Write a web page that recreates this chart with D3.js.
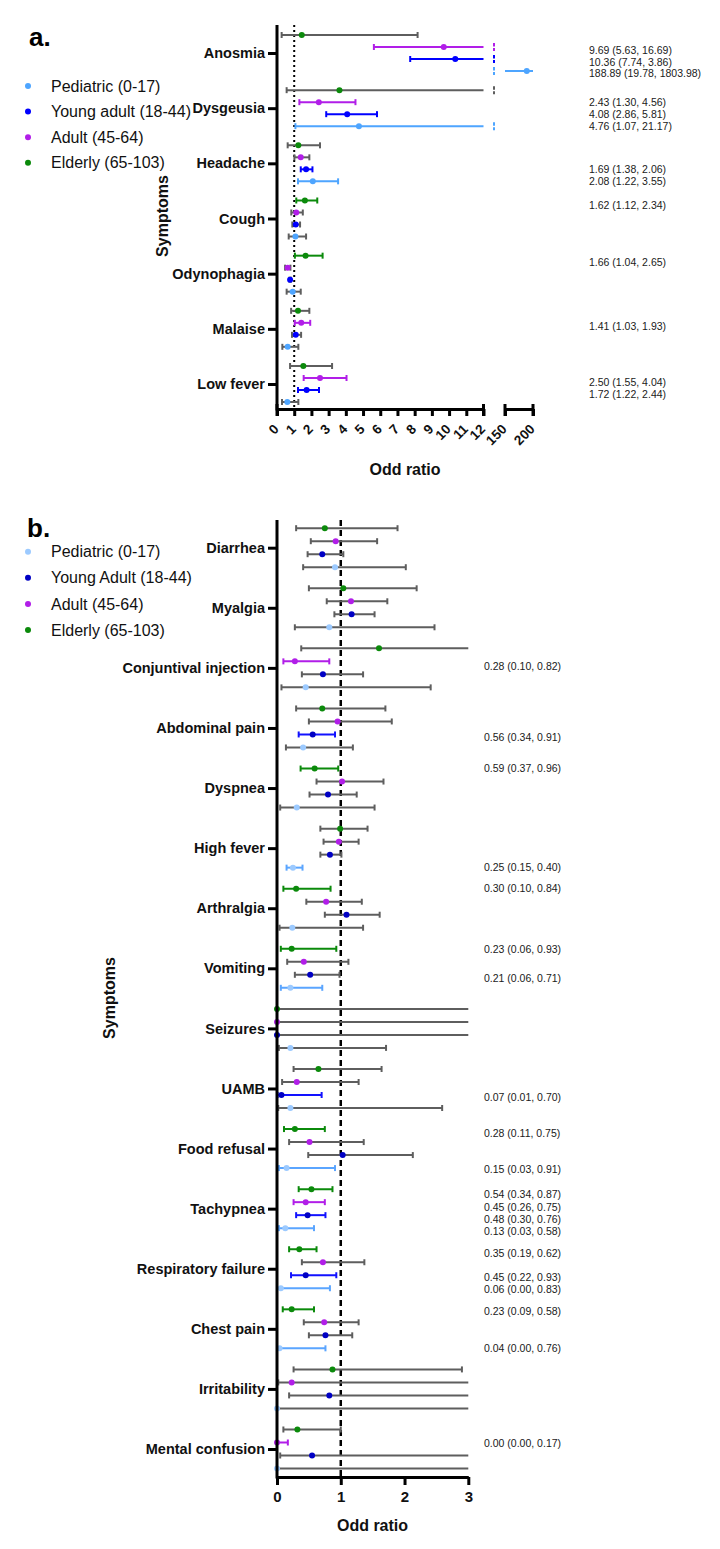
<!DOCTYPE html>
<meta charset="utf-8">
<script src="https://d3js.org/d3.v7.min.js"></script>
<style>
  body { margin: 0; background: #fff; }
  text { font-family: "Liberation Sans", Arial, sans-serif; }
</style>
<div id="chart"></div>
<script>
// order of the four rows inside each symptom (top -> bottom)
const groupKeys = ["elderly", "adult", "young", "pediatric"];
const gray = "#5e5e5e";

// ---------- panel a ----------
const symptomsA = ["Anosmia", "Dysgeusia", "Headache", "Cough", "Odynophagia", "Malaise", "Low fever"];
// values per symptom: [elderly, adult, young adult, pediatric]
const oddsA = [[1.44, 9.69, 10.36, 188.89], [3.63, 2.43, 4.08, 4.76], [1.24, 1.38, 1.69, 2.08], [1.62, 1.12, 1.09, 1.07],
               [1.66, 0.62, 0.76, 0.91], [1.22, 1.41, 1.09, 0.62], [1.53, 2.50, 1.72, 0.60]];
const lowA  = [[0.27, 5.63, 7.74, 19.78], [0.56, 1.30, 2.86, 1.07], [0.62, 1.01, 1.38, 1.22], [1.12, 0.83, 0.89, 0.68],
               [1.04, 0.47, 0.72, 0.56], [0.82, 1.03, 0.87, 0.31], [0.76, 1.55, 1.22, 0.29]];
const highA = [[8.17, 16.69, 13.86, 1803.98], [20.5, 4.56, 5.81, 21.17], [2.50, 1.88, 2.06, 3.55], [2.34, 1.50, 1.34, 1.69],
               [2.65, 0.78, 0.81, 1.38], [1.88, 1.93, 1.40, 1.24], [3.20, 4.04, 2.44, 1.24]];
const sigA  = [[0, 1, 1, 1], [0, 1, 1, 1], [0, 0, 1, 1], [1, 0, 0, 0], [1, 0, 0, 0], [0, 1, 0, 0], [0, 1, 1, 0]];
const ticksA1 = [0, 1, 2, 3, 4, 5, 6, 7, 8, 9, 10, 11, 12];
const ticksA2 = [150, 200];
const legendA = ["Pediatric (0-17)", "Young adult (18-44)", "Adult (45-64)", "Elderly (65-103)"];
// [symptom, row, text, small vertical nudge]
const notesA = [
  ["Anosmia", "adult", "9.69 (5.63, 16.69)", 3], ["Anosmia", "young", "10.36 (7.74, 3.86)", 3],
  ["Anosmia", "pediatric", "188.89 (19.78, 1803.98)", 2],
  ["Dysgeusia", "adult", "2.43 (1.30, 4.56)", 0], ["Dysgeusia", "young", "4.08 (2.86, 5.81)", 0],
  ["Dysgeusia", "pediatric", "4.76 (1.07, 21.17)", 0],
  ["Headache", "young", "1.69 (1.38, 2.06)", 0], ["Headache", "pediatric", "2.08 (1.22, 3.55)", 0],
  ["Cough", "elderly", "1.62 (1.12, 2.34)", 5], ["Odynophagia", "elderly", "1.66 (1.04, 2.65)", 7],
  ["Malaise", "adult", "1.41 (1.03, 1.93)", 3],
  ["Low fever", "adult", "2.50 (1.55, 4.04)", 4], ["Low fever", "young", "1.72 (1.22, 2.44)", 4]
];

// ---------- panel b ----------
const symptomsB = ["Diarrhea", "Myalgia", "Conjuntival injection", "Abdominal pain", "Dyspnea", "High fever", "Arthralgia",
  "Vomiting", "Seizures", "UAMB", "Food refusal", "Tachypnea", "Respiratory failure", "Chest pain", "Irritability", "Mental confusion"];
const oddsB = [[0.75, 0.92, 0.71, 0.91], [1.04, 1.16, 1.17, 0.82], [1.60, 0.28, 0.72, 0.45], [0.71, 0.95, 0.56, 0.41],
  [0.59, 1.02, 0.80, 0.31], [0.99, 0.97, 0.83, 0.25], [0.30, 0.77, 1.09, 0.24], [0.23, 0.42, 0.52, 0.21],
  [0.00, 0.00, 0.00, 0.21], [0.65, 0.31, 0.07, 0.21], [0.28, 0.51, 1.03, 0.15], [0.54, 0.45, 0.48, 0.13],
  [0.35, 0.72, 0.45, 0.06], [0.23, 0.74, 0.76, 0.04], [0.87, 0.23, 0.82, 0.00], [0.32, 0.00, 0.55, 0.00]];
const lowB = [[0.30, 0.53, 0.48, 0.41], [0.50, 0.78, 0.90, 0.28], [0.38, 0.10, 0.39, 0.07], [0.30, 0.50, 0.34, 0.14],
  [0.37, 0.62, 0.51, 0.05], [0.68, 0.73, 0.68, 0.15], [0.10, 0.46, 0.75, 0.04], [0.06, 0.16, 0.28, 0.06],
  [0.00, 0.00, 0.00, 0.03], [0.26, 0.08, 0.01, 0.02], [0.11, 0.19, 0.49, 0.03], [0.34, 0.26, 0.30, 0.03],
  [0.19, 0.39, 0.22, 0.00], [0.09, 0.42, 0.50, 0.00], [0.26, 0.02, 0.19, 0.00], [0.10, 0.00, 0.05, 0.00]];
const highB = [[1.89, 1.57, 1.04, 2.02], [2.19, 1.73, 1.53, 2.47], [3.40, 0.82, 1.35, 2.41], [1.70, 1.80, 0.91, 1.19],
  [0.96, 1.67, 1.25, 1.53], [1.42, 1.28, 1.01, 0.40], [0.84, 1.33, 1.61, 1.35], [0.93, 1.12, 0.98, 0.71],
  [9.00, 9.00, 9.00, 1.71], [1.64, 1.28, 0.70, 2.59], [0.75, 1.36, 2.13, 0.91], [0.87, 0.75, 0.76, 0.58],
  [0.62, 1.37, 0.93, 0.83], [0.58, 1.28, 1.18, 0.76], [2.90, 9.00, 9.00, 9.00], [1.00, 0.17, 9.00, 9.00]];
const sigB = [[0, 0, 0, 0], [0, 0, 0, 0], [0, 1, 0, 0], [0, 0, 1, 0], [1, 0, 0, 0], [0, 0, 0, 1], [1, 0, 0, 0], [1, 0, 0, 1],
  [0, 0, 0, 0], [0, 0, 1, 0], [1, 0, 0, 1], [1, 1, 1, 1], [1, 0, 1, 1], [1, 0, 0, 1], [0, 0, 0, 0], [0, 1, 0, 0]];
const ticksB = [0, 1, 2, 3];
const legendB = ["Pediatric (0-17)", "Young Adult (18-44)", "Adult (45-64)", "Elderly (65-103)"];
const notesB = [
  ["Conjuntival injection", "adult", "0.28 (0.10, 0.82)", 5], ["Abdominal pain", "young", "0.56 (0.34, 0.91)", 3],
  ["Dyspnea", "elderly", "0.59 (0.37, 0.96)", 0], ["High fever", "pediatric", "0.25 (0.15, 0.40)", 0],
  ["Arthralgia", "elderly", "0.30 (0.10, 0.84)", 0], ["Vomiting", "elderly", "0.23 (0.06, 0.93)", 1],
  ["Vomiting", "pediatric", "0.21 (0.06, 0.71)", -9], ["UAMB", "young", "0.07 (0.01, 0.70)", 2],
  ["Food refusal", "elderly", "0.28 (0.11, 0.75)", 4], ["Food refusal", "pediatric", "0.15 (0.03, 0.91)", 1.5],
  ["Tachypnea", "elderly", "0.54 (0.34, 0.87)", 5.5], ["Tachypnea", "adult", "0.45 (0.26, 0.75)", 5],
  ["Tachypnea", "young", "0.48 (0.30, 0.76)", 4], ["Tachypnea", "pediatric", "0.13 (0.03, 0.58)", 3],
  ["Respiratory failure", "elderly", "0.35 (0.19, 0.62)", 4.5], ["Respiratory failure", "young", "0.45 (0.22, 0.93)", 2],
  ["Respiratory failure", "pediatric", "0.06 (0.00, 0.83)", 1],
  ["Chest pain", "elderly", "0.23 (0.09, 0.58)", 1.5], ["Chest pain", "pediatric", "0.04 (0.00, 0.76)", 0],
  ["Mental confusion", "adult", "0.00 (0.00, 0.17)", 1]
];

const colA = {elderly: "#0b8a0b", adult: "#b11ee8", young: "#0000ff", pediatric: "#4ea5ff"};
const dotB = {elderly: "#0b8a0b", adult: "#b11ee8", young: "#0000c4", pediatric: "#9ccaff"};
const barB = {elderly: "#0b8a0b", adult: "#b11ee8", young: "#1212ff", pediatric: "#5aa5ff"};
const legendOrder = ["pediatric", "young", "adult", "elderly"];

const svg = d3.select("#chart").append("svg").attr("width", 720).attr("height", 1549);
const axisX = 277, capH = 3, dotR = 3;

function hline(g, x1, x2, y, c) {
  g.append("line").attr("x1", x1).attr("x2", x2).attr("y1", y).attr("y2", y)
    .attr("stroke", c).attr("stroke-width", 2);
}
function cap(g, x, y, c) {
  g.append("line").attr("x1", x).attr("x2", x).attr("y1", y - capH).attr("y2", y + capH)
    .attr("stroke", c).attr("stroke-width", 2);
}

// ================= panel a =================
const gA = svg.append("g");
const yCatA = d3.scalePoint().domain(symptomsA).range([53, 384]);
const rowA = d3.scalePoint().domain(groupKeys).range([-18, 18]);
const xa1 = d3.scaleLinear().domain([0, 12]).range([axisX, 483.5]);
const xa2 = d3.scaleLinear().domain([150, 200]).range([505, 533]);
const gapX = 494, axisYA = 409;

gA.append("text").text("a.").attr("x", 29).attr("y", 46)
  .attr("font-size", 26).attr("font-weight", "bold");

legendA.forEach((t, i) => {
  const y = 86 + i * 25.6;
  gA.append("circle").attr("cx", 28).attr("cy", y).attr("r", 3).attr("fill", colA[legendOrder[i]]);
  gA.append("text").text(t).attr("x", 51).attr("y", y).attr("dy", "0.35em").attr("font-size", 16).attr("fill", "#111");
});

// reference line at OR = 1
gA.append("line").attr("x1", xa1(1)).attr("x2", xa1(1)).attr("y1", 25).attr("y2", axisYA)
  .attr("stroke", "#000").attr("stroke-width", 2).attr("stroke-dasharray", "2,3");

function gapMark(g, y, c) {
  g.append("line").attr("x1", gapX).attr("x2", gapX).attr("y1", y - 4).attr("y2", y + 4)
    .attr("stroke", c).attr("stroke-width", 2).attr("stroke-dasharray", "3.5,1.5");
}

symptomsA.forEach((s, i) => {
  groupKeys.forEach((k, j) => {
    const y = yCatA(s) + rowA(k);
    const c = sigA[i][j] ? colA[k] : gray;
    const lo = lowA[i][j], hi = highA[i][j], or = oddsA[i][j];
    if (lo <= 12) {
      hline(gA, xa1(lo), xa1(Math.min(hi, 12)), y, c);
      cap(gA, xa1(lo), y, c);
      if (hi <= 12) cap(gA, xa1(hi), y, c);
      else gapMark(gA, y, c);
    } else if (lo < 150) {
      gapMark(gA, y, c);
    }
    if (hi >= 150) {
      hline(gA, xa2(Math.max(lo, 150)), xa2(Math.min(hi, 200)), y, c);
      if (hi <= 200) cap(gA, xa2(hi), y, c);
    }
    const cx = or <= 12 ? xa1(or) : xa2(Math.min(or, 200));
    gA.append("circle").attr("cx", cx).attr("cy", y).attr("r", dotR).attr("fill", colA[k]);
  });
});

// y axis
gA.append("line").attr("x1", axisX).attr("x2", axisX).attr("y1", 25).attr("y2", axisYA + 1.5)
  .attr("stroke", "#000").attr("stroke-width", 3);
const yAxA = gA.append("g").attr("transform", `translate(${axisX},0)`)
  .call(d3.axisLeft(yCatA).tickSize(9).tickPadding(3));
yAxA.select(".domain").remove();
yAxA.selectAll(".tick line").attr("stroke-width", 3);
yAxA.selectAll(".tick text").attr("font-size", 14.5).attr("font-weight", "bold").attr("fill", "#111");

// x axis, two segments
[[xa1, ticksA1], [xa2, ticksA2]].forEach(([sc, tv]) => {
  const ax = gA.append("g").attr("transform", `translate(0,${axisYA})`)
    .call(d3.axisBottom(sc).tickValues(tv).tickSize(7).tickSizeOuter(0).tickFormat(d3.format("d")));
  ax.select(".domain").attr("stroke-width", 3);
  ax.selectAll(".tick line").attr("stroke-width", 3);
  ax.selectAll(".tick text").attr("font-size", 13.5).attr("font-weight", "bold").attr("fill", "#111")
    .attr("text-anchor", "end").attr("y", 0).attr("dy", 0)
    .attr("transform", "translate(2,21) rotate(-45)");
  sc.range().forEach(x => {
    ax.append("line").attr("x1", x).attr("x2", x).attr("y1", -5).attr("y2", 7)
      .attr("stroke", "#000").attr("stroke-width", 3);
  });
});

gA.append("text").text("Odd ratio").attr("x", 405).attr("y", 475).attr("text-anchor", "middle")
  .attr("font-size", 16).attr("font-weight", "bold").attr("fill", "#111");
gA.append("text").text("Symptoms").attr("transform", "translate(168,216) rotate(-90)").attr("text-anchor", "middle")
  .attr("font-size", 16).attr("font-weight", "bold").attr("fill", "#111");

notesA.forEach(([s, k, t, dy]) => {
  gA.append("text").text(t).attr("x", 589).attr("y", yCatA(s) + rowA(k) + dy).attr("dy", "0.35em")
    .attr("font-size", 10.5).attr("fill", "#1a1a1a");
});

// ================= panel b =================
const gB = svg.append("g");
const yCatB = d3.scalePoint().domain(symptomsB).range([547.7, 1449]);
const rowB = d3.scalePoint().domain(groupKeys).range([-19.5, 19.5]);
const xb = d3.scaleLinear().domain([0, 3]).range([axisX, 468.3]);
const axisYB = 1477;

gB.append("text").text("b.").attr("x", 27).attr("y", 537)
  .attr("font-size", 26).attr("font-weight", "bold");

legendB.forEach((t, i) => {
  const y = 551.7 + i * 26.1;
  gB.append("circle").attr("cx", 28).attr("cy", y).attr("r", 3).attr("fill", dotB[legendOrder[i]]);
  gB.append("text").text(t).attr("x", 51).attr("y", y).attr("dy", "0.35em").attr("font-size", 16).attr("fill", "#111");
});

gB.append("line").attr("x1", xb(1)).attr("x2", xb(1)).attr("y1", 520).attr("y2", axisYB)
  .attr("stroke", "#000").attr("stroke-width", 2.5).attr("stroke-dasharray", "6,4");

symptomsB.forEach((s, i) => {
  groupKeys.forEach((k, j) => {
    const y = yCatB(s) + rowB(k);
    const c = sigB[i][j] ? barB[k] : gray;
    const lo = lowB[i][j], hi = highB[i][j];
    hline(gB, xb(lo), xb(Math.min(hi, 3)), y, c);
    cap(gB, xb(lo), y, c);
    if (hi <= 3) cap(gB, xb(hi), y, c);
    gB.append("circle").attr("cx", xb(oddsB[i][j])).attr("cy", y).attr("r", dotR).attr("fill", dotB[k]);
  });
});

gB.append("line").attr("x1", axisX).attr("x2", axisX).attr("y1", 520).attr("y2", axisYB + 1.5)
  .attr("stroke", "#000").attr("stroke-width", 3);
const yAxB = gB.append("g").attr("transform", `translate(${axisX},0)`)
  .call(d3.axisLeft(yCatB).tickSize(9).tickPadding(3));
yAxB.select(".domain").remove();
yAxB.selectAll(".tick line").attr("stroke-width", 3);
yAxB.selectAll(".tick text").attr("font-size", 14.5).attr("font-weight", "bold").attr("fill", "#111");

const xAxB = gB.append("g").attr("transform", `translate(0,${axisYB})`)
  .call(d3.axisBottom(xb).tickValues(ticksB).tickSize(8).tickSizeOuter(0).tickPadding(6).tickFormat(d3.format("d")));
xAxB.select(".domain").attr("stroke-width", 3);
xAxB.selectAll(".tick line").attr("stroke-width", 3);
xAxB.selectAll(".tick text").attr("font-size", 15).attr("font-weight", "bold").attr("fill", "#111");

gB.append("text").text("Odd ratio").attr("x", 372.5).attr("y", 1531).attr("text-anchor", "middle")
  .attr("font-size", 16).attr("font-weight", "bold").attr("fill", "#111");
gB.append("text").text("Symptoms").attr("transform", "translate(115,998) rotate(-90)").attr("text-anchor", "middle")
  .attr("font-size", 16).attr("font-weight", "bold").attr("fill", "#111");

notesB.forEach(([s, k, t, dy]) => {
  gB.append("text").text(t).attr("x", 484).attr("y", yCatB(s) + rowB(k) + dy).attr("dy", "0.35em")
    .attr("font-size", 10.5).attr("fill", "#1a1a1a");
});
</script>
